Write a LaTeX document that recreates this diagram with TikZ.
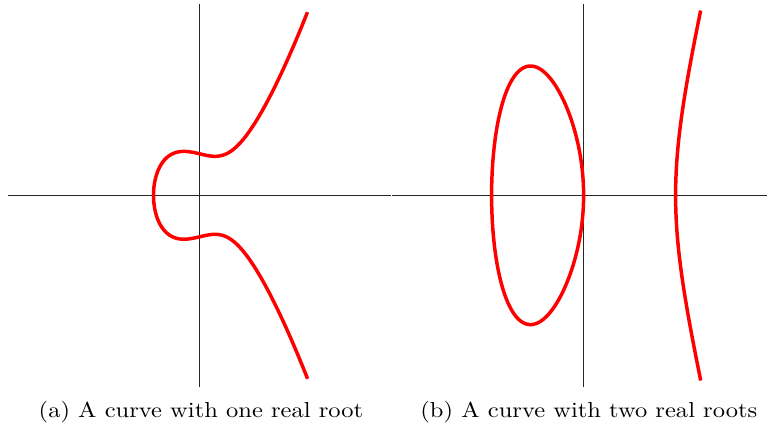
\documentclass[tikz,border=0pt]{standalone}
\begin{document}
\begin{tikzpicture}[x=0.4608pt,y=-0.4608pt,
  axis/.style={line width=0.5pt,black!85},
  curve/.style={line width=1.6pt,red},
  caption/.style={anchor=base west,inner sep=0pt,font=\fontsize{10}{12}\selectfont}]
\useasboundingbox (0,0) rectangle (767,427);
% axes (a)
\coordinate (aL) at (8,195.3);
\coordinate (aR) at (391,195.3);
\coordinate (aT) at (199.5,4);
\coordinate (aB) at (199.5,387);
\draw[axis] (aL) -- (aR);
\draw[axis] (aT) -- (aB);
% axes (b)
\coordinate (bL) at (392,195.3);
\coordinate (bR) at (767,195.3);
\coordinate (bT) at (583.6,4);
\coordinate (bB) at (583.6,387);
\draw[axis] (bL) -- (bR);
\draw[axis] (bT) -- (bB);
% curve (a): one real root
\draw[curve] plot[variable=\u,domain=-3.148:3.148,samples=240,smooth]
  ({199.5+15.55*(-2.958+\u*\u)},
   {195.3-10.07*\u*sqrt((-2.958+\u*\u)^2-2.958*(-2.958+\u*\u)+5.75)});
% curve (b): oval
\draw[curve] plot[variable=\t,domain=0:358,samples=180,smooth cycle]
  ({583.6-46*(1+cos(\t))},
   {195.3-104.2*sin(\t)*sqrt(1+(1+cos(\t))/2)});
% curve (b): right branch
\draw[curve] plot[variable=\u,domain=-0.5225:0.5225,samples=120,smooth]
  ({583.6+92*(1+\u*\u)},
   {195.3-208.4*\u*sqrt((1+\u*\u)*(2+\u*\u))});
% captions
\node[caption] (capa) at (38.3,417.7) {\scalebox{1.13}[1]{(a) A curve with one real root}};
\node[caption] (capb) at (420,417.7) {\scalebox{1.13}[1]{(b) A curve with two real roots}};
\end{tikzpicture}
\end{document}
